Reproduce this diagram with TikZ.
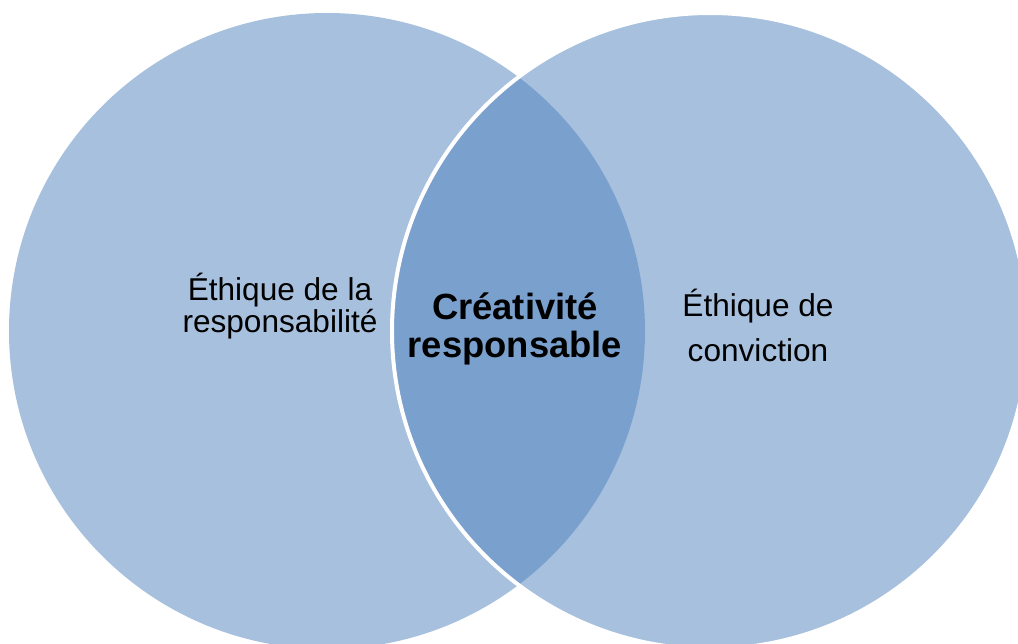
\documentclass[tikz,border=0pt]{standalone}
\usepackage{fontspec}
\setmainfont{Liberation Sans}
\usetikzlibrary{positioning}
\definecolor{accent}{RGB}{79,129,189}
\tikzset{
  set/.style={fill=accent,fill opacity=.5},
  rim/.style={draw=white,line width=2pt,draw opacity=1},
  lab/.style={align=center,text=black,anchor=base,font=\fontsize{15.8pt}{16pt}\selectfont},
  core/.style={align=center,text=black,anchor=base,font=\bfseries\fontsize{18.2pt}{19pt}\selectfont}
}
\begin{document}
\begin{tikzpicture}[x=.5pt,y=.5pt]
  \useasboundingbox (0,0) rectangle (1018,-643);
  \clip (0,0) rectangle (1018,-643);
  % the two sets
  \fill[set] (327,-331) circle (318);
  \draw[set,rim] (710,-331) circle (318);

  \node[lab] (resp) at (280,-332) {Éthique de la\\responsabilité};
  \node[lab,font=\fontsize{15.8pt}{22.5pt}\selectfont] (conv) at (758,-361) {Éthique de\\conviction};
  \node[core] (crea) at (515,-357) {Créativité\\responsable};
\end{tikzpicture}
\end{document}
